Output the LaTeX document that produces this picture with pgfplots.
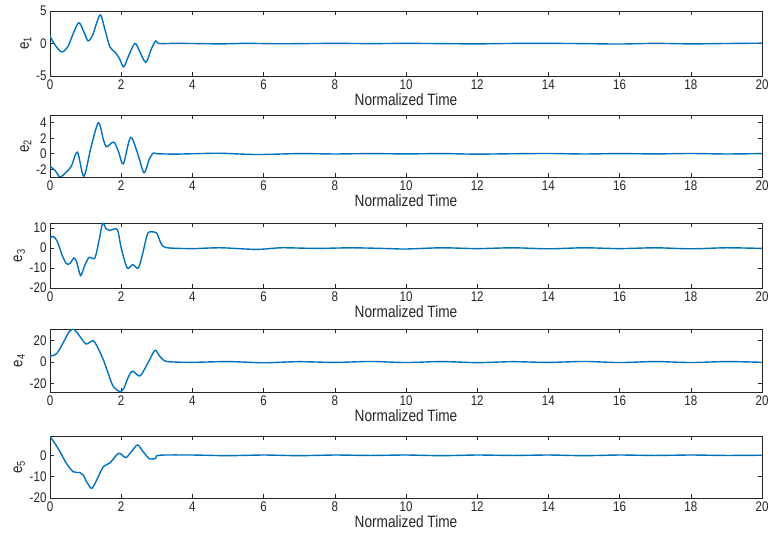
\documentclass[border=0pt]{standalone}
\usepackage{pgfplots}
\pgfplotsset{compat=1.18}
\usepackage{fontspec}
\setmainfont{Liberation Sans}[FakeStretch=0.83]
\definecolor{mblue}{rgb}{0,0.447,0.741}
\definecolor{axgray}{rgb}{0.15,0.15,0.15}
\pgfplotsset{
  errpanel/.style={
    scale only axis, width=712bp, anchor=south west,
    xmin=0, xmax=20, xtick={0,2,...,20},
    tick align=inside, tick pos=both, major tick length=4bp,
    axis line style={axgray, line width=0.5pt},
    every tick/.style={axgray, line width=0.5pt},
    ticklabel style={font=\fontsize{14}{16}\selectfont, text=axgray},
    /pgf/number format/assume math mode=true,
    xlabel={Normalized Time},
    xlabel style={font=\fontsize{16.5}{18}\selectfont, text=axgray, at={(axis description cs:0.5,0)}, anchor=north, yshift=-14bp},
    ylabel style={font=\fontsize{16}{18}\selectfont, text=axgray, yshift=-2bp},
  },
  errline/.style={mblue, line width=1.4pt, smooth, tension=0.5, mark=none},
}
\begin{document}
\begin{tikzpicture}
\useasboundingbox (0,0) rectangle (772bp,537bp);

\begin{axis}[errpanel, at={(50bp,461bp)}, height=65bp, ymin=-5, ymax=5, ytick={-5,0,5}, ylabel={e\textsubscript{1}}]
\addplot[errline] coordinates {
(0,1.1) (0.15,-0.3) (0.33,-1.3) (0.5,-0.5) (0.65,1.5) (0.81,3.2) (0.95,1.8) (1.07,0.4)
(1.2,1.3) (1.3,3.0) (1.42,4.4) (1.55,2.0) (1.68,-0.5) (1.82,-1.3) (1.95,-2.3) (2.07,-3.6)
(2.2,-2.0) (2.38,0.0) (2.5,-1.0) (2.69,-2.9) (2.85,-0.8) (2.97,0.4) (3.05,0.0)
(3.5,0.02) (4,0) (4.8,-0.06) (5.5,0.02) (6.5,-0.04) (8,0.02) (9,-0.02) (10,0.02)
(11,-0.02) (12,-0.06) (13,0.01) (14,0.02) (15,-0.02) (16,-0.08) (17,0.02) (18,-0.06) (19,0.0) (20,0.05)
};
\end{axis}

\begin{axis}[errpanel, at={(50bp,360bp)}, height=62bp, ymin=-3, ymax=5, ytick={-2,0,2,4}, ylabel={e\textsubscript{2}}]
\addplot[errline] coordinates {
(0,-1.6) (0.15,-2.2) (0.28,-3.0) (0.45,-2.4) (0.6,-1.6) (0.77,0.2) (0.95,-2.9) (1.15,0.8)
(1.36,4.0) (1.5,1.8) (1.59,0.9) (1.79,1.5) (1.93,0.2) (2.06,-1.3) (2.26,2.1) (2.45,0.2)
(2.64,-2.45) (2.78,-0.8) (2.9,0.1) (3.0,0.0)
(3.5,-0.05) (4,0.0) (4.8,0.06) (5.8,-0.1) (7,0.02) (8,-0.03) (9,0.02) (10,-0.02)
(11,0.02) (12,-0.05) (13,0.0) (14,0.03) (15,-0.03) (16,0.02) (17,-0.02) (18,0.03) (19,-0.03) (20,0.02)
};
\end{axis}

\begin{axis}[errpanel, at={(50bp,249bp)}, height=65bp, ymin=-20, ymax=12.5, ytick={-20,-10,0,10}, ylabel={e\textsubscript{3}}]
\addplot[errline] coordinates {
(0,5) (0.09,5.8) (0.2,3.5) (0.35,-4) (0.47,-8) (0.57,-7.5) (0.67,-5) (0.75,-7)
(0.86,-13.8) (0.97,-9) (1.1,-4.7) (1.26,-5) (1.38,4) (1.48,12.3) (1.58,9.5) (1.68,8.8)
(1.89,9.2) (2.0,0) (2.17,-10) (2.32,-8.3) (2.48,-10) (2.6,-3) (2.72,6) (2.79,8)
(2.99,7.5) (3.1,3) (3.18,0.8) (3.36,0)
(4,-0.3) (4.8,0.1) (5.8,-0.7) (6.5,0.1) (7.5,-0.2) (8.5,0.1) (9.5,-0.3) (10,-0.5)
(11,0.1) (12,-0.3) (13,0.1) (14,-0.4) (15,0.1) (16,-0.3) (17,0.1) (18,-0.4) (19,0.1) (20,-0.2)
};
\end{axis}

\begin{axis}[errpanel, at={(50bp,145bp)}, height=63bp, ymin=-28, ymax=31, ytick={-20,0,20}, ylabel={e\textsubscript{4}}]
\addplot[errline] coordinates {
(0,5.7) (0.19,8) (0.4,20) (0.55,29) (0.67,30.5) (0.82,25) (1.01,17) (1.21,20)
(1.35,13) (1.5,2) (1.65,-12) (1.78,-23) (1.96,-27.5) (2.07,-25) (2.2,-14) (2.32,-8.5)
(2.52,-13) (2.7,-4) (2.94,10.7) (3.05,7) (3.18,2) (3.36,0.3)
(4,-0.2) (5,0.5) (6,-0.6) (7,0.4) (8,-0.3) (9,0.6) (10,-0.4) (11,0.5)
(12,-0.5) (13,0.4) (14,-0.3) (15,0.6) (16,-0.4) (17,0.5) (18,-0.4) (19,0.5) (20,-0.2)
};
\end{axis}

\begin{axis}[errpanel, at={(50bp,39bp)}, height=62bp, ymin=-20, ymax=9, ytick={-20,-10,0}, ylabel={e\textsubscript{5}}]
\addplot[errline] coordinates {
(0,8.8) (0.12,6) (0.28,1.7) (0.45,-3.5) (0.65,-7.7) (0.84,-8.1) (0.93,-9.2) (1.05,-13)
(1.17,-15.5) (1.3,-12) (1.5,-5.3) (1.68,-3.7) (1.93,0.9) (2.13,-1.1) (2.3,2) (2.46,4.8)
(2.6,2) (2.8,-1.7) (2.97,-1.4) (3.07,0)
(4,0.1) (5,-0.2) (6,0.1) (7,-0.2) (8,0.1) (9,-0.1) (10,0.1) (11,-0.2)
(12,0.1) (13,-0.1) (14,0.1) (15,-0.2) (16,0.1) (17,-0.1) (18,0.1) (19,-0.1) (20,0.0)
};
\end{axis}
\end{tikzpicture}
\end{document}
